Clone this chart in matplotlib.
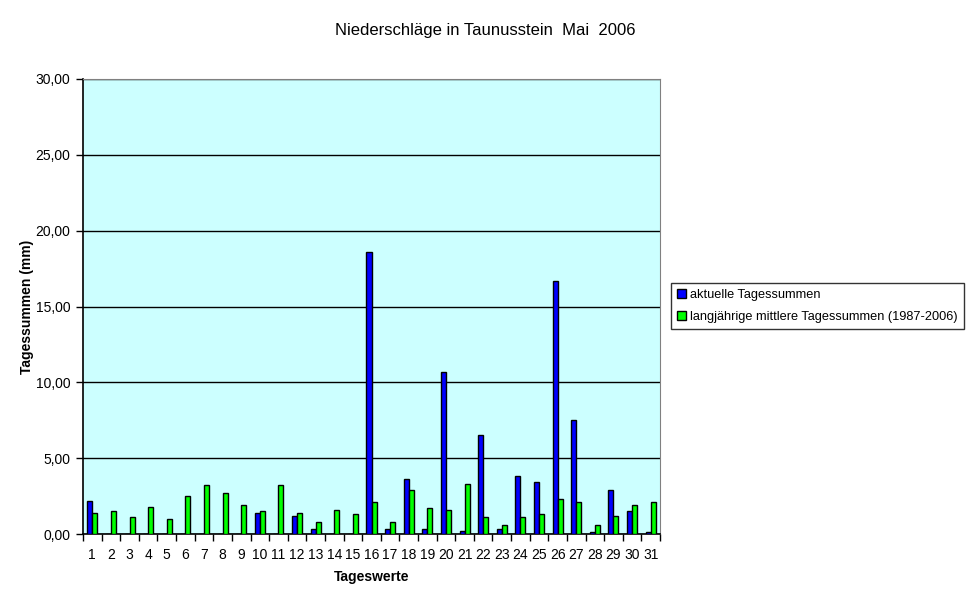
import numpy as np
import matplotlib.pyplot as plt
from matplotlib.ticker import FuncFormatter, FixedLocator

plt.rcParams['font.family'] = ['Liberation Sans', 'DejaVu Sans']

# Tage im Mai 2006
tage = list(range(1, 32))
# aktuelle Tagessummen (mm)
aktuell = [2.2, 0, 0, 0, 0, 0, 0, 0, 0, 1.4, 0,
           1.2, 0.35, 0, 0, 18.6, 0.35, 3.6, 0.35, 10.7, 0.2,
           6.5, 0.35, 3.8, 3.4, 16.7, 7.5, 0.13, 2.9, 1.5, 0.13]
# langjährige mittlere Tagessummen (1987-2006)
mittel = [1.4, 1.5, 1.1, 1.8, 1.0, 2.5, 3.2, 2.7, 1.9, 1.5, 3.2,
          1.4, 0.8, 1.6, 1.3, 2.1, 0.8, 2.9, 1.7, 1.6, 3.3,
          1.1, 0.6, 1.1, 1.3, 2.3, 2.1, 0.6, 1.2, 1.9, 2.1]

fig = plt.figure(figsize=(9.7, 6.04), dpi=100)
ax = fig.add_axes([83 / 970, 70 / 604, 577 / 970, 455 / 604])
ax.set_facecolor('#ccffff')

x = np.arange(len(tage))
w = 0.27
ax.bar(x - w / 2, aktuell, w, color='#0000ff', edgecolor='black', linewidth=1.0,
       label='aktuelle Tagessummen', zorder=3)
ax.bar(x + w / 2, mittel, w, color='#00ff00', edgecolor='black', linewidth=1.0,
       label='langjährige mittlere Tagessummen (1987-2006)', zorder=3)

ax.set_xlim(-0.5, len(tage) - 0.5)
ax.set_ylim(0, 30)
ax.set_yticks(np.arange(0, 31, 5))
ax.yaxis.set_major_formatter(FuncFormatter(lambda v, p: f'{v:.2f}'.replace('.', ',')))
ax.yaxis.grid(True, color='black', linewidth=1.0, zorder=1)

ax.set_xticks(x)
ax.set_xticklabels([str(t) for t in tage], fontsize=10)
ax.tick_params(axis='x', which='major', length=0, pad=10)
ax.xaxis.set_minor_locator(FixedLocator(np.arange(-0.5, len(tage), 1)))
ax.tick_params(axis='x', which='minor', length=5, width=1, direction='out')
ax.tick_params(axis='y', length=5, width=1, direction='out', labelsize=10, pad=4)

for s in ['top', 'right']:
    ax.spines[s].set_color('#808080')
for s in ['left', 'bottom']:
    ax.spines[s].set_color('black')
    ax.spines[s].set_linewidth(1.2)

ax.set_ylabel('Tagessummen (mm)', fontsize=10, fontweight='bold')
ax.yaxis.set_label_coords((34 - 83) / 577, 0.5)
ax.set_xlabel('Tageswerte', fontsize=10, fontweight='bold', labelpad=6)

fig.text(485 / 970, 1 - 31 / 604, 'Niederschläge in Taunusstein  Mai  2006',
         ha='center', va='center', fontsize=12)

leg = fig.legend(loc='center left', bbox_to_anchor=(671 / 970, 1 - 306 / 604),
                 fontsize=9.2, frameon=True, fancybox=False, edgecolor='black',
                 handlelength=0.7, handleheight=0.7, handletextpad=0.3,
                 borderpad=0.5, labelspacing=0.75, borderaxespad=0)
leg.get_frame().set_linewidth(1.0)

fig.savefig('out.png', dpi=100)
